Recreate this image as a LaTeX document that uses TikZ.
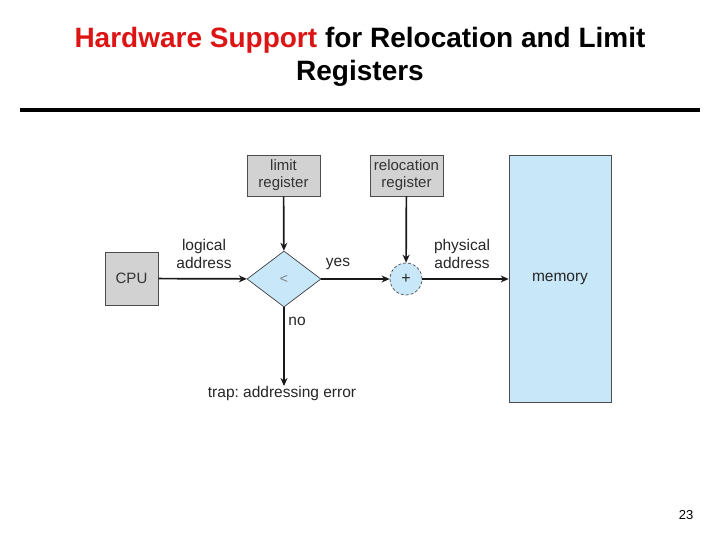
\documentclass[tikz,border=0pt]{standalone}
\usepackage{fontspec}
\setmainfont{Liberation Sans}
\usetikzlibrary{shapes.geometric,arrows.meta}
\definecolor{titlered}{RGB}{220,20,20}
\definecolor{regfill}{RGB}{210,210,210}
\definecolor{bluefill}{RGB}{200,232,250}
\frenchspacing
\begin{document}
\begin{tikzpicture}[x=1pt,y=-1pt,
  lbl/.style={font=\fontsize{15.5}{18}\selectfont, align=center, inner sep=0pt, text=black!85},
  regbox/.style={draw=black!70, fill=regfill, line width=0.7pt, inner sep=0pt, font=\fontsize{15}{17}\selectfont, align=center, text=black!80},
  arr/.style={-{Stealth[length=8pt,width=7pt]}, line width=1.7pt, black!90}]
\useasboundingbox (0,0) rectangle (720,540);
\fill[white] (0,0) rectangle (720,540);
% title
\node[font=\bfseries\fontsize{28}{33}\selectfont, align=center, inner sep=0pt] (title) at (360,57)
  {\textcolor{titlered}{Hardware Support} for Relocation and Limit\\Registers};
\draw[line width=4pt] (20,110) -- (700,110);
% nodes
\node[regbox, minimum width=53pt, minimum height=53pt] (cpu) at (131.5,278.5) {CPU};
\node[regbox, minimum width=73pt, minimum height=41pt] (lim) at (283.5,175.5) {limit\\register};
\node[regbox, minimum width=73pt, minimum height=41pt] (rel) at (406.5,175.5) {relocation\\register};
\node[diamond, draw=black!75, fill=bluefill, line width=0.7pt, minimum width=74pt, minimum height=56pt, inner sep=0pt, aspect=1.32, font=\fontsize{14}{15}\selectfont, text=black!50] (cmp) at (284,279) {<};
\node[circle, draw=black!70, densely dashed, fill=bluefill, line width=0.7pt, minimum size=32pt, inner sep=0pt, font=\fontsize{16}{16}\selectfont, text=black!85] (add) at (406,279) {+};
\node[draw=black!70, fill=bluefill, line width=0.7pt, minimum width=102pt, minimum height=247pt, inner sep=0pt, font=\fontsize{15.5}{17}\selectfont, text=black!85] (mem) at (560,278.5) {\raisebox{-3pt}{memory}};
\node[lbl, anchor=north] (trap) at (282,386) {trap: addressing error};
% connectors
\draw[arr] (cpu) -- (cmp);
\draw[arr] (lim) -- (cmp);
\draw[arr] (cmp) -- (add);
\draw[arr] (rel) -- (add);
\draw[arr] (add) -- (mem.west |- add);
\draw[arr] (cmp.south) -- (cmp.south |- trap.north);
% labels
\node[lbl] (logl) at (204,254) {logical\\address};
\node[lbl] (yesl) at (338,264) {yes};
\node[lbl] (phyl) at (462,254) {physical\\address};
\node[lbl] (nol) at (297,321) {no};
\node[font=\fontsize{13}{15}\selectfont, inner sep=0pt] (pg) at (686,515) {23};
\end{tikzpicture}
\end{document}
